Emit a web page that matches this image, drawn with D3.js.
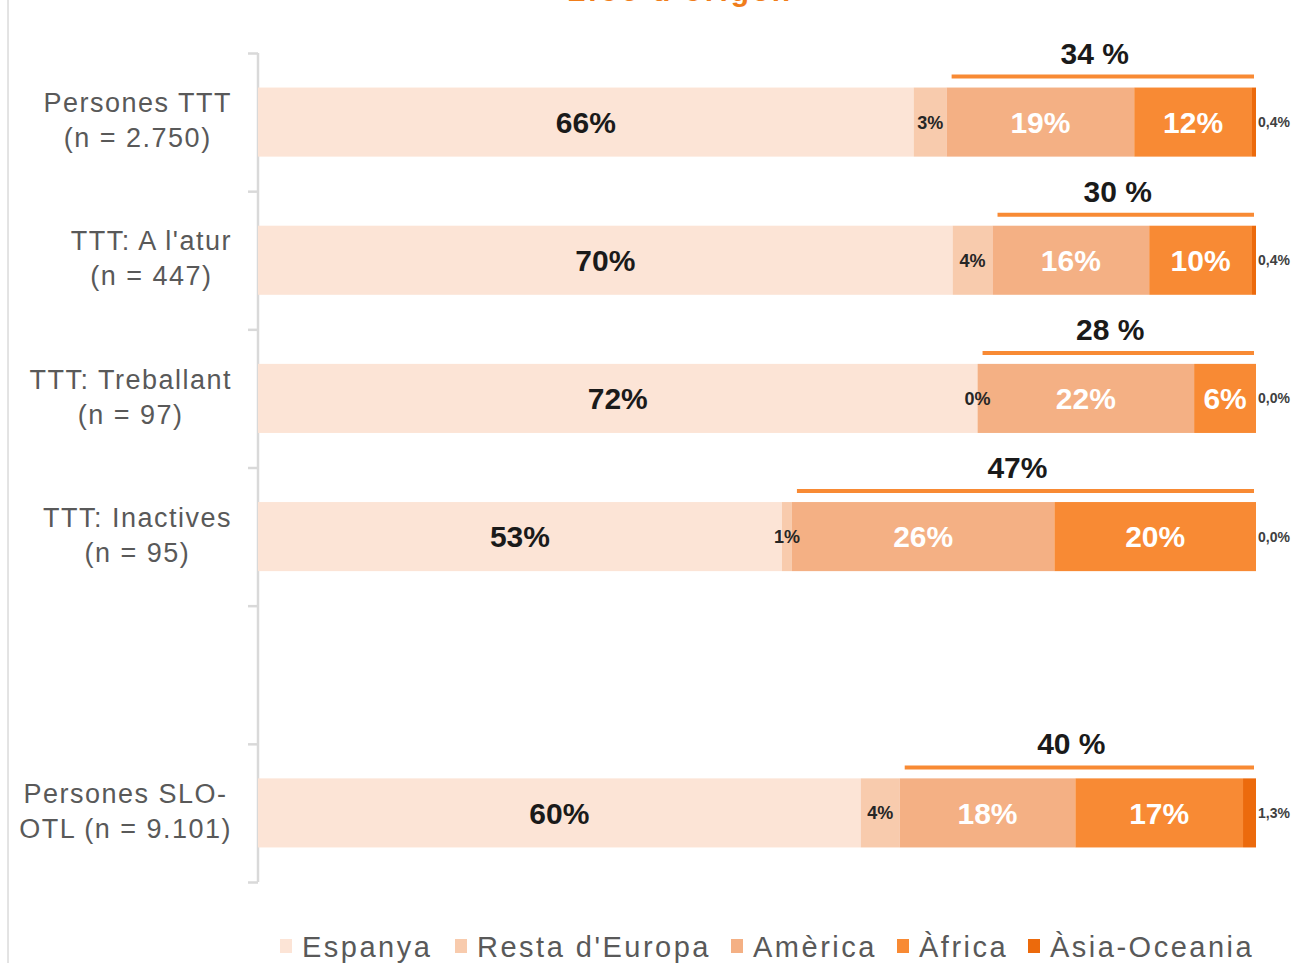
<!DOCTYPE html>
<html><head><meta charset="utf-8">
<script src="https://cdn.jsdelivr.net/npm/d3@7"></script>
<style>
html,body{margin:0;padding:0;background:#fff;}
svg{display:block;font-family:"Liberation Sans",Arial,sans-serif;}
</style></head>
<body>
<svg id="chart" width="1299" height="963"></svg>
<script>
// ---- data ----
const categories = ["Persones TTT (n = 2.750)", "TTT: A l'atur (n = 447)", "TTT: Treballant (n = 97)", "TTT: Inactives (n = 95)", "", "Persones SLO-OTL (n = 9.101)"];
const categoryLines = [["Persones TTT","(n = 2.750)"],["TTT: A l'atur","(n = 447)"],["TTT: Treballant","(n = 97)"],["TTT: Inactives","(n = 95)"],[],["Persones SLO-","OTL (n = 9.101)"]];
const seriesNames = ["Espanya", "Resta d'Europa", "Amèrica", "Àfrica", "Àsia-Oceania"];
const espanya   = [65.7, 69.6, 72.1, 52.5, null, 60.4];
const restaEur  = [3.3, 4.0, 0.0, 1.0, null, 3.9];
const america   = [18.8, 15.7, 21.7, 26.3, null, 17.6];
const africa    = [11.8, 10.3, 6.2, 20.2, null, 16.8];
const asiaOce   = [0.4, 0.4, 0.0, 0.0, null, 1.3];
const labEspanya = ["66%", "70%", "72%", "53%", null, "60%"];
const labResta   = ["3%", "4%", "0%", "1%", null, "4%"];
const labAmerica = ["19%", "16%", "22%", "26%", null, "18%"];
const labAfrica  = ["12%", "10%", "6%", "20%", null, "17%"];
const labAsia    = ["0,4%", "0,4%", "0,0%", "0,0%", null, "1,3%"];
const totalLabels = ["34 %", "30 %", "28 %", "47%", null, "40 %"];
const titleText = "Lloc d'origen";

const colors = ["#FCE4D6", "#F8CBAD", "#F4B084", "#F88A34", "#EC6A0C"];
const series = [espanya, restaEur, america, africa, asiaOce];

// ---- layout ----
const svg = d3.select("#chart");
const x = d3.scaleLinear().domain([0, 100]).range([258, 1256]);
const step = (882 - 53) / categories.length;
const barH = step * 0.5;
const bandTop = i => 53 + i * step + (step - barH) / 2;

// frame line on the left
svg.append("line").attr("x1", 8).attr("x2", 8).attr("y1", 0).attr("y2", 963)
  .attr("stroke", "#c8c8c8").attr("stroke-width", 1);

// title (cut off at top, as in the original)
svg.append("text").attr("x", 680).attr("y", 1).attr("text-anchor", "middle")
  .attr("fill", "#F07D1A").attr("font-weight", "bold").attr("font-size", 30)
  .attr("letter-spacing", 3).text(titleText);

// axis with ticks at band boundaries
const yEdge = d3.scaleLinear().domain([0, categories.length]).range([53, 882]);
const axis = d3.axisLeft(yEdge).tickValues(d3.range(0, categories.length + 1)).tickSize(10).tickFormat("");
const ax = svg.append("g").attr("transform", "translate(258,0)").call(axis);
ax.select(".domain").attr("stroke", "#d9d9d9").attr("stroke-width", 2.5).attr("d", "M0,53V882");
ax.selectAll(".tick line").attr("stroke", "#d9d9d9").attr("stroke-width", 2.5);

// stacked data
const stackData = categories.map((c, i) => {
  const o = { i };
  seriesNames.forEach((s, k) => o[s] = series[k][i]);
  return o;
}).filter(d => espanya[d.i] !== null);
const stacked = d3.stack().keys(seriesNames)(stackData);

const gBars = svg.append("g");
stacked.forEach((layer, k) => {
  gBars.selectAll(null).data(layer).enter().append("rect")
    .attr("x", d => x(d[0]))
    .attr("width", d => Math.max(0, x(d[1]) - x(d[0])))
    .attr("y", d => bandTop(d.data.i))
    .attr("height", barH)
    .attr("fill", colors[k]);
});

// segment labels
const segLabels = [labEspanya, labResta, labAmerica, labAfrica];
const segStyle = [
  { size: 30, fill: "#1a1a1a" },
  { size: 18, fill: "#262626" },
  { size: 30, fill: "#ffffff" },
  { size: 30, fill: "#ffffff" }
];
stacked.forEach((layer, k) => {
  if (k > 3) return;
  layer.forEach(d => {
    const i = d.data.i;
    svg.append("text")
      .attr("x", (x(d[0]) + x(d[1])) / 2)
      .attr("y", bandTop(i) + barH / 2)
      .attr("dy", "0.36em")
      .attr("text-anchor", "middle")
      .attr("font-weight", "bold")
      .attr("font-size", segStyle[k].size)
      .attr("fill", segStyle[k].fill)
      .text(segLabels[k][i]);
  });
});
// Asia labels outside the bar
stacked[4].forEach(d => {
  const i = d.data.i;
  svg.append("text").attr("x", x(100) + 2).attr("y", bandTop(i) + barH / 2)
    .attr("dy", "0.36em").attr("font-weight", "bold").attr("font-size", 14)
    .attr("fill", "#404040").text(labAsia[i]);
});

// total line + label (non-Spain, starting at Amèrica)
stacked[2].forEach(d => {
  const i = d.data.i;
  const x0 = x(d[0]) + 5, x1 = x(100) - 2;
  const ly = bandTop(i) - 11;
  svg.append("line").attr("x1", x0).attr("x2", x1).attr("y1", ly).attr("y2", ly)
    .attr("stroke", "#F88A34").attr("stroke-width", 4);
  svg.append("text").attr("x", (x0 + x1) / 2 - 8).attr("y", bandTop(i) - 24)
    .attr("text-anchor", "middle").attr("font-weight", "bold").attr("font-size", 30)
    .attr("fill", "#1a1a1a").text(totalLabels[i]);
});

// category labels
categoryLines.forEach((lines, i) => {
  if (!lines.length) return;
  const cy = bandTop(i) + barH / 2 - 2;
  const g = svg.append("g");
  const texts = lines.map((t, j) => g.append("text")
    .attr("y", cy + (j - (lines.length - 1) / 2) * 35)
    .attr("dy", "0.36em")
    .attr("text-anchor", "middle")
    .attr("font-size", 27).attr("letter-spacing", 1.5)
    .attr("fill", "#595959").text(t));
  const maxW = d3.max(texts, t => t.node().getComputedTextLength());
  texts.forEach(t => t.attr("x", 232 - maxW / 2));
});

// legend
const legendX = [280, 455, 731, 897, 1028];
const lg = svg.append("g");
seriesNames.forEach((s, k) => {
  lg.append("rect").attr("x", legendX[k]).attr("y", 939).attr("width", 12).attr("height", 14)
    .attr("fill", colors[k]);
  lg.append("text").attr("x", legendX[k] + 22).attr("y", 957)
    .attr("font-size", 29).attr("letter-spacing", 2.5).attr("fill", "#595959").text(s);
});
</script>
</body></html>
